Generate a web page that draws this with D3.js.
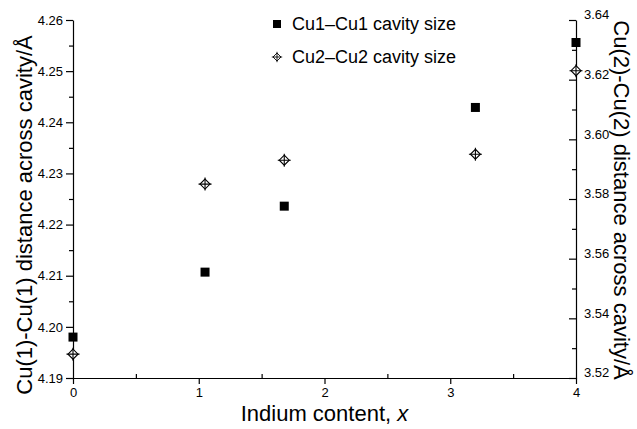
<!DOCTYPE html>
<html lang="en">
<head>
    <meta charset="UTF-8">
    <title>Cavity size vs indium content</title>
    <style>
        body { margin: 0; background: #fff; }
        text { font-family: "Liberation Sans", Arial, sans-serif; fill: #000; }
    </style>
</head>
<body>
    <div id="container"></div>
    <script src="https://d3js.org/d3.v7.min.js"></script>
    <script>
        // Indium content x and the two cavity sizes
        var indium = [0, 1.05, 1.68, 3.2, 4];
        var cu1 = [4.198, 4.2107, 4.2236, 4.2429, 4.2556];
        var cu2 = [3.528, 3.585, 3.593, 3.595, 3.623];
        var xTicks = [0, 1, 2, 3, 4];
        var leftTicks = [4.19, 4.20, 4.21, 4.22, 4.23, 4.24, 4.25, 4.26];
        var rightTicks = [3.52, 3.54, 3.56, 3.58, 3.60, 3.62, 3.64];
        var legendLabels = ["Cu1\u2013Cu1 cavity size", "Cu2\u2013Cu2 cavity size"];

        var width = 637, height = 429;
        var plotLeft = 73, plotRight = 576, plotTop = 20, plotBottom = 378;

        var svg = d3.select("#container").append("svg")
            .attr("width", width)
            .attr("height", height);

        var x = d3.scaleLinear().domain([0, 4]).range([plotLeft, plotRight]);
        var yL = d3.scaleLinear().domain([4.19, 4.26]).range([plotBottom, plotTop]);
        var yR = d3.scaleLinear().domain([3.52, 3.64]).range([plotBottom, plotTop]);

        // minor ticks first, so major ones sit on top
        svg.append("g")
            .attr("transform", "translate(0," + plotBottom + ")")
            .call(d3.axisBottom(x).tickValues([0.5, 1.5, 2.5, 3.5]).tickSize(-4).tickFormat(""))
            .call(function (g) { g.select(".domain").remove(); });
        svg.append("g")
            .attr("transform", "translate(" + plotLeft + ",0)")
            .call(d3.axisLeft(yL).tickValues(d3.range(7).map(function (i) { return 4.195 + i * 0.01; })).tickSize(4).tickFormat(""))
            .call(function (g) { g.select(".domain").remove(); });
        svg.append("g")
            .attr("transform", "translate(" + plotRight + ",0)")
            .call(d3.axisRight(yR).tickValues(d3.range(6).map(function (i) { return 3.53 + i * 0.02; })).tickSize(-4).tickFormat(""))
            .call(function (g) { g.select(".domain").remove(); });

        // bottom axis
        svg.append("g")
            .attr("transform", "translate(0," + plotBottom + ")")
            .call(d3.axisBottom(x).tickValues(xTicks).tickSize(6).tickPadding(4).tickFormat(d3.format("d")).tickSizeOuter(0));

        // left axis
        svg.append("g")
            .attr("transform", "translate(" + plotLeft + ",0)")
            .call(d3.axisLeft(yL).tickValues(leftTicks).tickSize(7).tickPadding(3).tickFormat(d3.format(".2f")).tickSizeOuter(0));

        // right axis, ticks point into the plot
        var rightAxis = svg.append("g")
            .attr("transform", "translate(" + plotRight + ",0)")
            .call(d3.axisRight(yR).tickValues(rightTicks).tickSize(-7).tickPadding(0).tickFormat(d3.format(".2f")).tickSizeOuter(0));
        rightAxis.selectAll(".tick text").attr("x", 8).attr("dy", "-0.1em");

        svg.selectAll(".domain, .tick line").attr("stroke", "#000").attr("stroke-width", 1.2);
        svg.selectAll(".tick text")
            .style("font-family", "'Liberation Sans Narrow', 'Liberation Sans', Arial, sans-serif")
            .style("font-size", "13px")
            .attr("fill", "#222");

        // Cu1 squares
        svg.append("g").selectAll("rect")
            .data(indium)
            .enter()
            .append("rect")
            .attr("x", function (d) { return x(d) - 4.5; })
            .attr("y", function (d, i) { return yL(cu1[i]) - 4.5; })
            .attr("width", 9)
            .attr("height", 9)
            .attr("fill", "#000");

        // Cu2 crossed diamonds
        function crossDiamond(g) {
            g.append("path")
                .attr("d", "M0,-5L5,0L0,5L-5,0Z")
                .attr("fill", "#fff")
                .attr("stroke", "#000")
                .attr("stroke-width", 1.1);
            g.append("path")
                .attr("d", "M0,-6.5V6.5M-6.5,0H6.5")
                .attr("stroke", "#000")
                .attr("stroke-width", 1.1);
        }

        svg.append("g").selectAll("g")
            .data(indium)
            .enter()
            .append("g")
            .attr("transform", function (d, i) { return "translate(" + x(d) + "," + yR(cu2[i]) + ")"; })
            .each(function () { crossDiamond(d3.select(this)); });

        // legend
        var legend = svg.append("g").attr("transform", "translate(277,24)");
        legend.append("rect").attr("x", -4).attr("y", -4).attr("width", 8).attr("height", 8).attr("fill", "#000");
        crossDiamond(legend.append("g").attr("transform", "translate(0,33) scale(0.8)"));
        legend.selectAll("text.lab")
            .data(legendLabels)
            .enter()
            .append("text")
            .attr("class", "lab")
            .attr("x", 15)
            .attr("y", function (d, i) { return i * 33; })
            .attr("dy", "0.35em")
            .style("font-size", "18px")
            .text(function (d) { return d; });

        // axis titles
        svg.append("text")
            .attr("text-anchor", "middle")
            .attr("transform", "translate(32,215) rotate(-90)")
            .style("font-size", "22px")
            .text("Cu(1)-Cu(1) distance across cavity/\u00c5");

        svg.append("text")
            .attr("text-anchor", "middle")
            .attr("transform", "translate(614,200) rotate(90)")
            .style("font-size", "22px")
            .text("Cu(2)-Cu(2) distance across cavity/\u00c5");

        var xTitle = svg.append("text")
            .attr("text-anchor", "middle")
            .attr("x", x(2))
            .attr("y", 421)
            .style("font-size", "22px");
        xTitle.append("tspan").text("Indium content, ");
        xTitle.append("tspan").style("font-style", "italic").text("x");
    </script>
</body>
</html>
